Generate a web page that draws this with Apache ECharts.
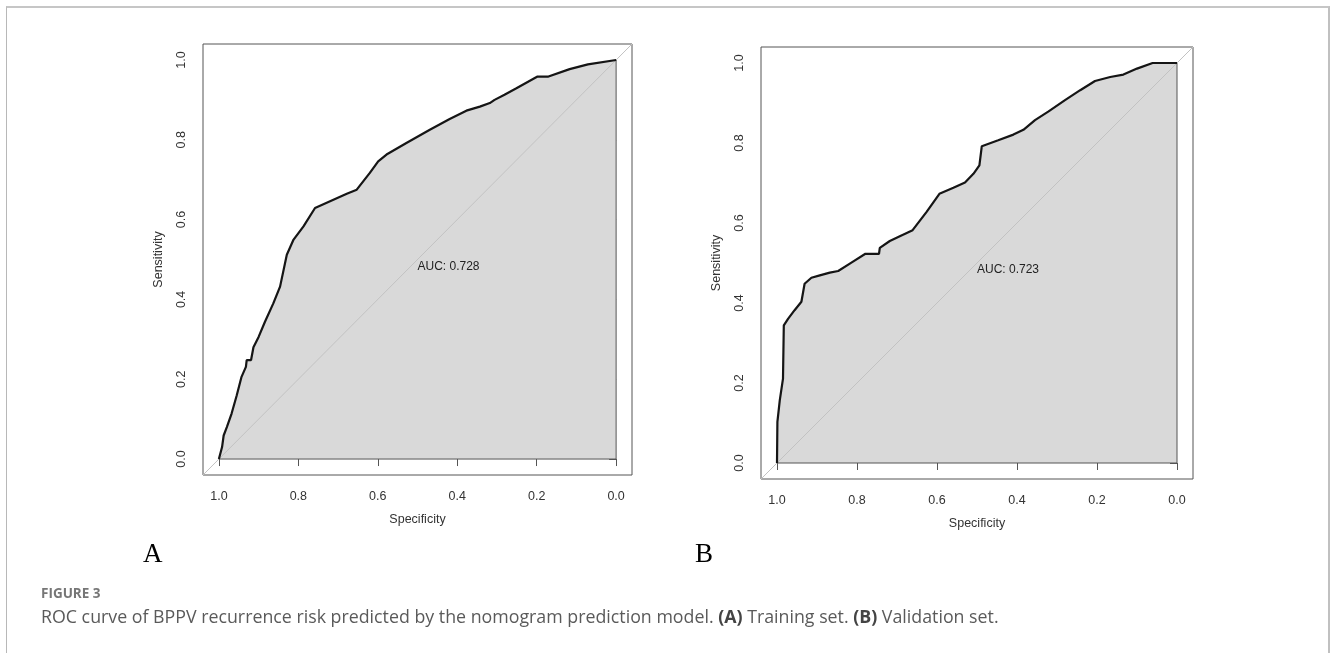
<!DOCTYPE html>
<html>
<head>
<meta charset="utf-8">
<script src="https://cdn.jsdelivr.net/npm/echarts@6/dist/echarts.min.js"></script>
<style>
  html, body { margin: 0; padding: 0; background: #fff; }
  #frame {
    position: absolute; left: 6px; top: 6px; width: 1321px; height: 660px;
    border-top: 2px solid #c6c6c6; border-left: 1px solid #b8b8b8; border-right: 2px solid #c0c0c0;
  }
  #chart { position: absolute; left: 0; top: 0; width: 1330px; height: 653px; }
</style>
</head>
<body>
<div id="frame"></div>
<div id="chart"></div>
<script>
  // 数据：A 训练集，B 验证集（specificity / sensitivity）
  const specA = [1.000, 0.992, 0.988, 0.980, 0.968, 0.955, 0.943, 0.932, 0.930, 0.919, 0.913, 0.900, 0.884, 0.863, 0.846, 0.829, 0.812, 0.787, 0.758, 0.678, 0.653, 0.620, 0.599, 0.578, 0.528, 0.469, 0.419, 0.377, 0.343, 0.318, 0.306, 0.281, 0.251, 0.199, 0.172, 0.117, 0.071, 0.000];
  const sensA = [0.000, 0.030, 0.059, 0.080, 0.114, 0.160, 0.206, 0.231, 0.248, 0.248, 0.280, 0.306, 0.344, 0.390, 0.432, 0.512, 0.550, 0.583, 0.629, 0.665, 0.675, 0.717, 0.746, 0.763, 0.792, 0.825, 0.852, 0.873, 0.883, 0.892, 0.900, 0.913, 0.929, 0.958, 0.958, 0.977, 0.989, 1.000];

  const specB = [1.000, 0.999, 0.993, 0.985, 0.983, 0.972, 0.956, 0.939, 0.931, 0.914, 0.893, 0.868, 0.847, 0.814, 0.779, 0.745, 0.743, 0.718, 0.689, 0.661, 0.626, 0.594, 0.559, 0.530, 0.509, 0.494, 0.488, 0.447, 0.409, 0.384, 0.355, 0.321, 0.280, 0.242, 0.205, 0.167, 0.134, 0.100, 0.061, 0.000];
  const sensB = [0.000, 0.103, 0.157, 0.211, 0.344, 0.361, 0.382, 0.403, 0.448, 0.463, 0.469, 0.476, 0.480, 0.501, 0.523, 0.523, 0.538, 0.555, 0.569, 0.582, 0.628, 0.673, 0.688, 0.701, 0.723, 0.744, 0.792, 0.807, 0.821, 0.833, 0.857, 0.879, 0.907, 0.932, 0.955, 0.965, 0.971, 0.986, 1.000, 1.000];

  const aucA = '0.728';
  const aucB = '0.723';

  // 刻度
  const tickValues = [0, 0.2, 0.4, 0.6, 0.8, 1.0];
  const tickLabels = ['0.0', '0.2', '0.4', '0.6', '0.8', '1.0'];

  // 对角线、AUC 多边形的边
  const diagonal = [[1.04, -0.04], [-0.04, 1.04]];
  const polygonEdge = [[0, 1], [0, 0], [1, 0]];
  const aucPos = [0.5, 0.5];

  const zip = (xs, ys) => xs.map((x, i) => [x, ys[i]]);
  const fmt = v => {
    const i = tickValues.findIndex(t => Math.abs(t - v) < 1e-9);
    return i >= 0 ? tickLabels[i] : '';
  };

  const tickFont = { color: '#333', fontSize: 12.5, fontFamily: 'Liberation Sans' };

  function xAxisFor(gi) {
    return {
      gridIndex: gi, type: 'value', inverse: true, min: -0.04, max: 1.04,
      name: 'Specificity', nameLocation: 'middle', nameGap: 38,
      nameTextStyle: tickFont,
      axisLine: { show: false },
      axisTick: { show: true, customValues: tickValues, length: 7, lineStyle: { color: '#555' } },
      axisLabel: Object.assign({ customValues: tickValues, formatter: fmt, margin: 15 }, tickFont),
      splitLine: { show: false }
    };
  }
  function yAxisFor(gi) {
    return {
      gridIndex: gi, type: 'value', min: -0.04, max: 1.04,
      name: 'Sensitivity', nameLocation: 'middle', nameGap: 38,
      nameTextStyle: tickFont,
      axisLine: { show: false },
      axisTick: { show: true, customValues: tickValues, length: 7, lineStyle: { color: '#555' } },
      axisLabel: Object.assign({ customValues: tickValues, formatter: fmt, margin: 15, rotate: 90 }, tickFont),
      splitLine: { show: false }
    };
  }

  function seriesFor(gi, spec, sens) {
    const ax = { xAxisIndex: gi, yAxisIndex: gi };
    return [
      Object.assign({
        type: 'line', data: zip(spec, sens), symbol: 'none',
        lineStyle: { width: 0 },
        areaStyle: { color: '#d9d9d9', opacity: 1, origin: 'auto' }
      }, ax),
      Object.assign({
        type: 'line', data: polygonEdge, symbol: 'none',
        lineStyle: { color: '#555', width: 1 }
      }, ax),
      Object.assign({
        type: 'line', data: diagonal, symbol: 'none',
        lineStyle: { color: '#c2c2c2', width: 1 }
      }, ax),
      Object.assign({
        type: 'line', data: zip(spec, sens), symbol: 'none',
        lineStyle: { color: '#151515', width: 2.2 }
      }, ax)
    ];
  }

  const option = {
    animation: false,
    grid: [
      { left: 203, top: 44, width: 429, height: 431, show: true, borderColor: '#555', borderWidth: 1, backgroundColor: 'transparent' },
      { left: 761, top: 47, width: 432, height: 432, show: true, borderColor: '#555', borderWidth: 1, backgroundColor: 'transparent' }
    ],
    xAxis: [xAxisFor(0), xAxisFor(1)],
    yAxis: [yAxisFor(0), yAxisFor(1)],
    series: [].concat(seriesFor(0, specA, sensA), seriesFor(1, specB, sensB)),
    graphic: [
      { id: 'labA', type: 'text', left: 143, top: 541, style: { text: 'A', fontSize: 27, fontFamily: 'Liberation Serif', fill: '#000' } },
      { id: 'labB', type: 'text', left: 695, top: 541, style: { text: 'B', fontSize: 27, fontFamily: 'Liberation Serif', fill: '#000' } },
      { id: 'fig', type: 'text', left: 41, top: 587, style: { text: 'FIGURE 3', fontSize: 13.5, fontWeight: 'bold', fontFamily: 'Open Sans', fill: '#767676' } },
      {
        id: 'cap', type: 'text', left: 41, top: 609,
        style: {
          text: '{n|ROC curve of BPPV recurrence risk predicted by the nomogram prediction model. }{b|(A)}{n| Training set. }{b|(B)}{n| Validation set.}',
          rich: {
            n: { fontSize: 17.8, fontFamily: 'Open Sans', fill: '#5a5a5a' },
            b: { fontSize: 17.8, fontFamily: 'Open Sans', fontWeight: 'bold', fill: '#444' }
          }
        }
      }
    ]
  };

  const myChart = echarts.init(document.getElementById('chart'));
  myChart.setOption(option);

  // AUC 文字：用坐标系换算位置
  const aucTexts = [aucA, aucB].map((auc, gi) => {
    const p = myChart.convertToPixel({ gridIndex: gi }, aucPos);
    return {
      id: 'auc' + gi, type: 'text', x: p[0], y: p[1] + 1, z: 10,
      style: { text: 'AUC: ' + auc, fontSize: 12, fontFamily: 'Liberation Sans', fill: '#222', textAlign: 'left', textVerticalAlign: 'top' }
    };
  });
  myChart.setOption({ graphic: aucTexts });
</script>
</body>
</html>
